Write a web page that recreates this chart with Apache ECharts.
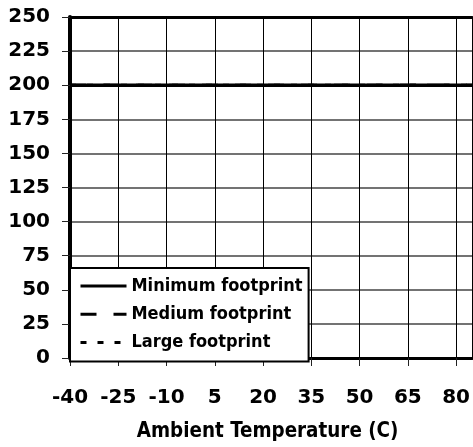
<!DOCTYPE html>
<html>
<head>
<meta charset="utf-8">
<script src="https://cdn.jsdelivr.net/npm/echarts@6/dist/echarts.min.js"></script>
<style>
html,body{margin:0;padding:0;background:#fff;}
#chart{width:473px;height:447px;}
</style>
</head>
<body>
<div id="chart"></div>
<script>
// Data
const temperatures = [-40, 85];
const minimumFootprint = [200, 200];
const mediumFootprint = [200, 200];
const largeFootprint = [200, 200];
const seriesNames = ['Minimum footprint', 'Medium footprint', 'Large footprint'];
const xAxisTitle = 'Ambient Temperature (C)';

const FONT_C = '"DejaVu Sans Condensed", "DejaVu Sans", sans-serif';
const FONT = '"DejaVu Sans", sans-serif';
const pairs = (ys) => temperatures.map((x, i) => [x, ys[i]]);

const chart = echarts.init(document.getElementById('chart'), null, {renderer: 'canvas'});
chart.setOption({
  animation: false,
  backgroundColor: '#fff',
  grid: {left: 70, top: 17, width: 404, height: 343.5, containLabel: false},
  xAxis: [{
    type: 'value', min: -40, max: 85, interval: 15, position: 'bottom',
    name: xAxisTitle, nameLocation: 'middle', nameGap: 64,
    nameTextStyle: {fontFamily: FONT_C, fontWeight: 'bold', fontSize: 20.4, color: '#000', padding: [0, 7, 0, 0]},
    axisLine: {show: true, onZero: false, lineStyle: {color: '#000', width: 3}},
    axisTick: {show: true, length: 8, lineStyle: {color: '#222', width: 1}},
    axisLabel: {margin: 30, showMaxLabel: false, fontFamily: FONT, fontWeight: 'bold', fontSize: 20, color: '#000'},
    splitLine: {show: true, lineStyle: {color: '#000', width: 1}}
  }, {
    type: 'value', min: -40, max: 85, interval: 15, position: 'top',
    axisLine: {show: true, onZero: false, lineStyle: {color: '#000', width: 3}},
    axisTick: {show: false}, axisLabel: {show: false}, splitLine: {show: false}
  }],
  yAxis: {
    type: 'value', min: 0, max: 250, interval: 25,
    axisLine: {show: true, onZero: false, lineStyle: {color: '#000', width: 4}},
    axisTick: {show: true, length: 8, lineStyle: {color: '#222', width: 1}},
    axisLabel: {margin: 20, fontFamily: FONT, fontWeight: 'bold', fontSize: 20, color: '#000'},
    splitLine: {show: true, lineStyle: {color: '#444', width: 1.5}}
  },
  legend: {
    data: seriesNames,
    orient: 'vertical', left: 70, top: 268,
    backgroundColor: '#fff', borderColor: '#000', borderWidth: 2,
    padding: [9, 6, 10, 9],
    itemWidth: 46, itemHeight: 20, itemGap: 10.3,
    itemStyle: {color: 'transparent', borderWidth: 0, opacity: 0},
    lineStyle: {width: 3},
    textStyle: {fontFamily: FONT_C, fontWeight: 'bold', fontSize: 18, color: '#000'}
  },
  series: [
    {name: seriesNames[2], type: 'line', symbol: 'none', data: pairs(largeFootprint),
     lineStyle: {color: '#000', width: 3, type: [6, 11]}, itemStyle: {color: '#000'}},
    {name: seriesNames[1], type: 'line', symbol: 'none', data: pairs(mediumFootprint),
     lineStyle: {color: '#000', width: 3, type: [16, 17]}, itemStyle: {color: '#000'}},
    {name: seriesNames[0], type: 'line', symbol: 'none', data: pairs(minimumFootprint),
     lineStyle: {color: '#000', width: 3.5, type: 'solid'}, itemStyle: {color: '#000'}}
  ]
});
</script>
</body>
</html>
